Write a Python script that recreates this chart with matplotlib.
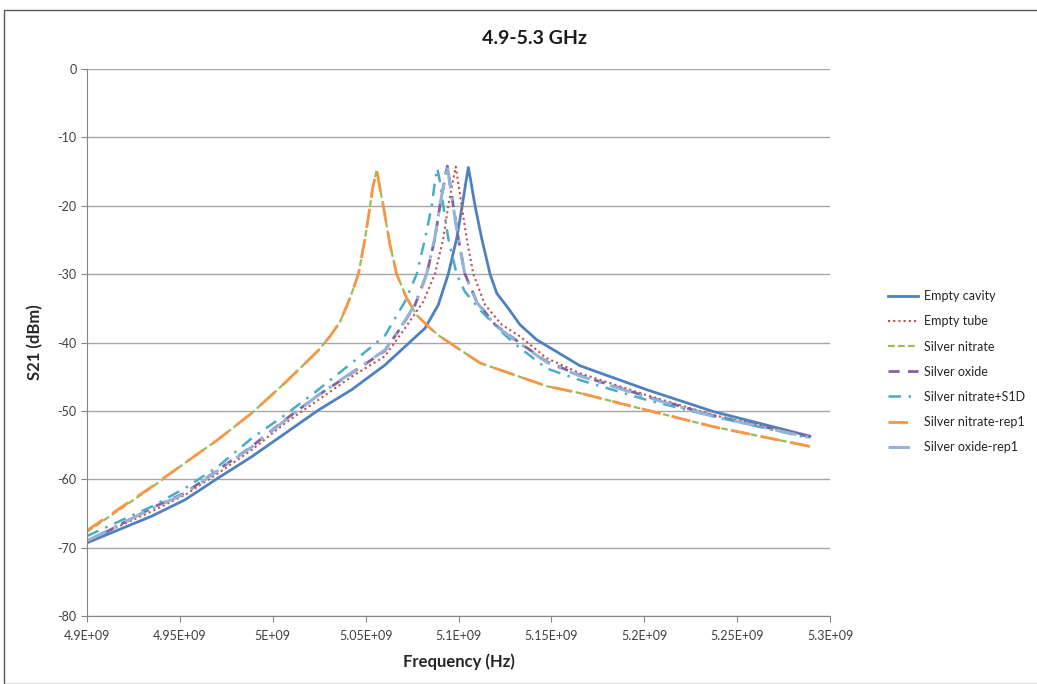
import numpy as np
import matplotlib
matplotlib.use("Agg")
import matplotlib.pyplot as plt
from matplotlib.patches import Rectangle

plt.rcParams['font.family'] = ['Lato', 'DejaVu Sans']

# ---- data (frequency in GHz, S21 in dBm) ----
cavity_f = [4.900, 4.9348, 4.9528, 4.9707, 4.9887, 5.0066, 5.0245, 5.0425, 5.0604, 5.0712,
            5.0820, 5.0891, 5.0945, 5.0990, 5.1020, 5.1040, 5.1053, 5.1067, 5.1089, 5.1125,
            5.1170, 5.1206, 5.1268, 5.1331, 5.1421, 5.1654, 5.2013, 5.2372, 5.2892]
cavity_db = [-69.3, -65.4, -63.0, -59.8, -56.7, -53.3, -49.9, -46.9, -43.3, -40.6,
             -37.9, -34.5, -30.0, -24.8, -20.0, -16.5, -14.4, -16.5, -20.0, -24.8,
             -30.0, -32.8, -35.0, -37.4, -39.6, -43.4, -46.9, -50.1, -53.7]

tube_f = [4.900, 4.9348, 4.9528, 4.9707, 4.9887, 5.0066, 5.0245, 5.0425, 5.0604, 5.0712,
          5.0811, 5.0873, 5.0918, 5.0945, 5.0963, 5.0985, 5.1003, 5.1017, 5.1044, 5.1080,
          5.1143, 5.1233, 5.1331, 5.1475, 5.1654, 5.2013, 5.2370, 5.2892]
tube_db = [-69.0, -64.7, -62.3, -59.1, -55.7, -51.8, -48.4, -45.0, -42.0, -37.9,
           -34.0, -30.0, -24.8, -20.0, -17.4, -14.3, -17.4, -20.0, -24.8, -30.0,
           -34.5, -37.4, -39.1, -42.3, -44.5, -47.7, -50.6, -53.7]

nitrate_f = [4.900, 4.9348, 4.9528, 4.9705, 4.9888, 5.0066, 5.0244, 5.0308, 5.0362, 5.0416,
             5.0461, 5.0497, 5.0524, 5.0538, 5.0560, 5.0577, 5.0595, 5.0631, 5.0667, 5.0721,
             5.0775, 5.0847, 5.0900, 5.1116, 5.1477, 5.1654, 5.2015, 5.2370, 5.2892]
nitrate_db = [-67.7, -61.2, -57.6, -54.2, -50.3, -45.9, -41.2, -39.1, -37.0, -33.5,
              -30.0, -24.8, -20.0, -17.4, -14.7, -17.4, -20.0, -25.7, -30.0, -33.5,
              -36.0, -37.9, -39.1, -43.0, -46.4, -47.4, -49.9, -52.3, -55.2]

oxide_f = [4.900, 4.9348, 4.9528, 4.9707, 4.9887, 5.0066, 5.0245, 5.0425, 5.0604, 5.0712,
           5.0766, 5.0829, 5.0873, 5.0900, 5.0918, 5.0940, 5.0958, 5.0972, 5.0999, 5.1035,
           5.1098, 5.1197, 5.1322, 5.1475, 5.1654, 5.2013, 5.2370, 5.2892]
oxide_db = [-69.2, -64.2, -62.0, -58.6, -55.2, -51.3, -47.7, -44.5, -41.2, -36.9,
            -34.5, -30.0, -24.8, -20.0, -17.4, -14.2, -17.4, -20.0, -24.8, -30.0,
            -34.0, -37.4, -39.9, -42.8, -44.8, -47.9, -50.7, -53.8]

s1d_f = [4.900, 4.9348, 4.9528, 4.9707, 4.9887, 5.0066, 5.0245, 5.0425, 5.0604, 5.0712,
         5.0775, 5.0820, 5.0856, 5.0873, 5.0886, 5.0900, 5.0918, 5.0945, 5.0990, 5.1035,
         5.1125, 5.1250, 5.1322, 5.1475, 5.1654, 5.2013, 5.2370, 5.2892]
s1d_db = [-68.3, -64.0, -61.3, -58.1, -54.0, -50.6, -46.9, -43.0, -39.0, -34.0,
          -30.0, -24.8, -20.0, -16.5, -14.5, -16.5, -20.0, -24.8, -30.0, -32.6,
          -35.5, -38.9, -40.6, -43.8, -45.5, -48.4, -50.8, -54.0]

nitrate_rep1_f = [4.900, 4.9348, 4.9528, 4.9705, 4.9888, 5.0066, 5.0244, 5.0308, 5.0362, 5.0416,
                  5.0461, 5.0497, 5.0524, 5.0538, 5.0560, 5.0577, 5.0595, 5.0631, 5.0667, 5.0721,
                  5.0775, 5.0847, 5.0900, 5.1116, 5.1477, 5.1654, 5.2015, 5.2370, 5.2892]
nitrate_rep1_db = [-67.5, -61.1, -57.6, -54.2, -50.3, -45.9, -41.2, -39.1, -37.0, -33.5,
                   -30.0, -24.8, -20.0, -17.4, -14.8, -17.4, -20.0, -25.7, -30.0, -33.5,
                   -36.0, -37.9, -39.1, -43.0, -46.4, -47.4, -49.9, -52.3, -55.2]

oxide_rep1_f = [4.900, 4.9348, 4.9528, 4.9707, 4.9887, 5.0066, 5.0245, 5.0425, 5.0604, 5.0712,
                5.0766, 5.0828, 5.0872, 5.0899, 5.0917, 5.0939, 5.0957, 5.0971, 5.0998, 5.1034,
                5.1098, 5.1197, 5.1322, 5.1475, 5.1654, 5.2013, 5.2370, 5.2892]
oxide_rep1_db = [-69.0, -64.3, -62.1, -58.7, -55.3, -51.4, -47.7, -44.4, -41.1, -36.8,
                 -34.4, -30.0, -24.8, -20.0, -17.4, -14.0, -17.4, -20.0, -24.8, -30.0,
                 -34.1, -37.5, -40.0, -42.9, -44.9, -48.0, -50.8, -53.9]

series_names = ["Empty cavity", "Empty tube", "Silver nitrate", "Silver oxide",
                "Silver nitrate+S1D", "Silver nitrate-rep1", "Silver oxide-rep1"]
x_tick_vals = [4.90, 4.95, 5.00, 5.05, 5.10, 5.15, 5.20, 5.25, 5.30]
x_tick_labels = ["4.9E+09", "4.95E+09", "5E+09", "5.05E+09", "5.1E+09",
                 "5.15E+09", "5.2E+09", "5.25E+09", "5.3E+09"]
y_ticks = [0, -10, -20, -30, -40, -50, -60, -70, -80]

# ---- figure ----
fig = plt.figure(figsize=(10.37, 6.84), dpi=100)
W, H = 1037, 684
fig.patches.append(Rectangle((4 / W, 0), 1.2, 1 - 10 / H, transform=fig.transFigure,
                             fill=False, edgecolor='#595959', lw=1.0))
ax = fig.add_axes([87 / W, 1 - 616 / H, (830 - 87) / W, (616 - 69) / H])

styles = [
    dict(color='#4F81BD', lw=2.0, ls='-'),
    dict(color='#C0504D', lw=1.5, ls=(0, (1, 1.5))),
    dict(color='#9BBB59', lw=1.6, ls=(0, (3, 1.5))),
    dict(color='#8064A2', lw=2.0, ls=(0, (4, 3))),
    dict(color='#4BACC6', lw=1.8, ls=(0, (5, 3, 1, 3))),
    dict(color='#F79646', lw=2.0, ls=(0, (7, 4))),
    dict(color='#95B3D7', lw=2.2, ls=(0, (7, 3, 1, 3))),
]
data = [(cavity_f, cavity_db), (tube_f, tube_db), (nitrate_f, nitrate_db),
        (oxide_f, oxide_db), (s1d_f, s1d_db), (nitrate_rep1_f, nitrate_rep1_db),
        (oxide_rep1_f, oxide_rep1_db)]

lines = []
for (f, db), name, st in zip(data, series_names, styles):
    ln, = ax.plot(np.array(f) * 1e9, db, label=name, **st)
    lines.append(ln)

ax.set_xlim(4.9e9, 5.3e9)
ax.set_ylim(-80, 0)
ax.set_xticks(np.array(x_tick_vals) * 1e9)
ax.set_xticklabels(x_tick_labels)
ax.set_yticks(y_ticks)
ax.set_yticklabels([str(v) for v in y_ticks])
ax.yaxis.grid(True, color='#A6A6A6', lw=1.0)
ax.set_axisbelow(True)
for s in ['top', 'right']:
    ax.spines[s].set_visible(False)
for s in ['left', 'bottom']:
    ax.spines[s].set_color('#868686')
ax.tick_params(axis='both', colors='#868686', labelcolor='#404040', labelsize=9, length=4)
ax.tick_params(axis='x', pad=6)

ax.set_xlabel("Frequency (Hz)", fontsize=12, fontweight='bold', color='#262626', labelpad=8)
ax.set_ylabel("S21 (dBm)", fontsize=12, fontweight='bold', color='#262626', labelpad=10)

fig.text(535 / W, 1 - 38 / H, "4.9-5.3 GHz", ha='center', va='center',
         fontsize=14, fontweight='bold', color='#1a1a1a')

fig.legend(handles=lines, loc='upper left', bbox_to_anchor=(877 / W, 1 - 279 / H),
           frameon=False, fontsize=9, handlelength=2.4, handletextpad=0.5,
           labelspacing=1.05, labelcolor='#262626')

fig.savefig("out.png", dpi=100)
